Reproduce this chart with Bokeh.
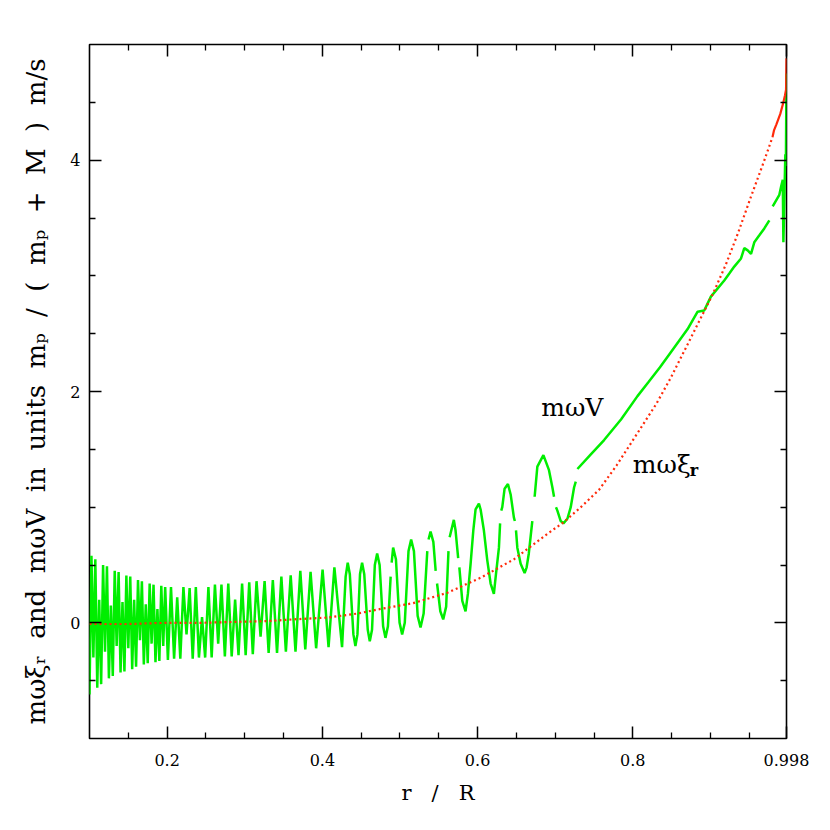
from bokeh.plotting import figure
from bokeh.models import Range1d, FixedTicker, LinearAxis, Label
from bokeh.embed import file_html
from bokeh.resources import INLINE

NAN = float("nan")
NB = "\u00a0"

# ---- data ----
X_MAJOR = [0.2, 0.4, 0.6, 0.8, 0.998]
X_MINOR = [0.15, 0.25, 0.3, 0.35, 0.45, 0.5, 0.55, 0.65, 0.7, 0.75, 0.85, 0.9, 0.95]
Y_MAJOR = [0, 2, 4]
Y_MINOR = [-0.5, 0.5, 1, 1.5, 2.5, 3, 3.5, 4.5]

# m omega V  (green); NaN marks the small breaks seen in the curve
green_r = [
    0.1000, 0.1025, 0.1050, 0.1075, 0.1100, 0.1125, 0.1150, 0.1175, 0.1200, 0.1225,
    0.1250, 0.1275, 0.1300, 0.1325, 0.1350, 0.1375, 0.1400, 0.1425, 0.1450, 0.1475,
    0.1500, 0.1525, 0.1550, 0.1575, 0.1600, 0.1625, 0.1650, 0.1675, 0.1700, 0.1725,
    0.1750, 0.1775, 0.1800, 0.1825, 0.1850, 0.1875, 0.1900, 0.1925, 0.1950, 0.1975,
    0.2010, 0.2050, 0.2090, 0.2130, 0.2170, 0.2210, 0.2250, 0.2290, 0.2330, 0.2370,
    0.2410, 0.2450, 0.2490, 0.2532, 0.2574, 0.2616, 0.2658, 0.2700, 0.2744, 0.2788,
    0.2832, 0.2876, 0.2920, 0.2966, 0.3012, 0.3058, 0.3104, 0.3152, 0.3204, 0.3256,
    0.3308, 0.3362, 0.3416, 0.3472, 0.3530, 0.3592, 0.3654, 0.3716, 0.3780, 0.3848,
    0.3920, 0.4003, 0.4080, 0.4155, 0.4254, 0.4300,
    0.4327, 0.4354, 0.4400, 0.4426, 0.4452, 0.4485, 0.4512, 0.4540, 0.4585, 0.4611,
    0.4640, 0.4676, 0.4706, 0.4738, 0.4783, 0.4813, 0.4845, 0.4880, NAN, 0.4893,
    0.4912, 0.4948, 0.4995, 0.5028, 0.5062, 0.5110, 0.5144, 0.5180, 0.5228, 0.5265,
    0.5305, 0.5352, NAN, 0.5368, 0.5394, 0.5430, 0.5460, NAN, 0.5478, 0.5520,
    0.5557, 0.5595, 0.5625, NAN, 0.5640, 0.5694, 0.5716, 0.5750, NAN, 0.5765,
    0.5803, 0.5845, 0.5875, 0.5910, 0.5945, 0.5974, 0.6017, 0.6039, 0.6081, 0.6125,
    0.6168, 0.6210, 0.6232, 0.6275, 0.6290, NAN, 0.6305, 0.6318, 0.6348, 0.6391,
    0.6426, 0.6468, 0.6480, NAN, 0.6495, 0.6512, 0.6555, 0.6606, 0.6632, 0.6660,
    0.6705, NAN, 0.6735, 0.6770, 0.6848, 0.6920, 0.6964, 0.6985, NAN, 0.7010,
    0.7028, 0.7071, 0.7106, 0.7157, 0.7200, 0.7243, 0.7265, NAN, 0.7286, 0.7450,
    0.7630, 0.7850, 0.8060, 0.8200, 0.8350, 0.8490, 0.8706, 0.8835, 0.8920, 0.9006,
    0.9178, 0.9243, 0.9307, 0.9394, 0.9436, 0.9480, 0.9523, 0.9565, 0.9630, 0.9694,
    0.9759, NAN, 0.9802, 0.9845, 0.9888, 0.9910, 0.9932, 0.9940, 0.9955, 0.9965,
    0.9972, 0.9980,
]
green_v = [
    -0.62, 0.58, -0.30, 0.55, -0.56, 0.20, -0.53, 0.50, -0.25, 0.49,
    -0.48, 0.15, -0.46, 0.45, -0.20, 0.44, -0.43, 0.18, -0.42, 0.41,
    -0.22, 0.40, -0.40, 0.20, -0.38, 0.37, -0.15, 0.36, -0.36, 0.16,
    -0.35, 0.34, -0.18, 0.33, -0.34, 0.12, -0.33, 0.32, -0.20, 0.31,
    -0.32, 0.31, -0.31, 0.22, -0.31, 0.31, -0.10, 0.30, -0.31, 0.31,
    -0.30, 0.05, -0.30, 0.31, -0.30, 0.33, -0.18, 0.33, -0.29, 0.34,
    -0.29, 0.20, -0.28, 0.34, -0.28, 0.35, -0.27, 0.36, -0.12, 0.36,
    -0.26, 0.37, -0.26, 0.40, -0.25, 0.41, -0.25, 0.45, -0.23, 0.44,
    -0.22, 0.46, -0.21, 0.48, -0.21, 0.40,
    0.52, 0.42, -0.10, -0.20, -0.10, 0.42, 0.52, 0.42, -0.06, -0.16,
    -0.06, 0.50, 0.60, 0.50, -0.03, -0.13, -0.03, 0.40, NAN, 0.52,
    0.65, 0.55, 0.00, -0.10, 0.00, 0.62, 0.72, 0.62, 0.06, -0.04,
    0.08, 0.62, NAN, 0.72, 0.79, 0.70, 0.45, NAN, 0.34, 0.10,
    0.03, 0.14, 0.62, NAN, 0.74, 0.89, 0.80, 0.56, NAN, 0.48,
    0.19, 0.10, 0.25, 0.51, 0.80, 0.98, 1.03, 0.98, 0.80, 0.54,
    0.34, 0.25, 0.39, 0.65, 0.86, NAN, 0.97, 1.00, 1.16, 1.20,
    1.11, 0.91, 0.88, NAN, 0.80, 0.65, 0.51, 0.43, 0.48, 0.60,
    0.88, NAN, 1.09, 1.35, 1.45, 1.32, 1.17, 1.09, NAN, 1.00,
    0.97, 0.88, 0.86, 0.90, 1.00, 1.17, 1.22, NAN, 1.33, 1.45,
    1.58, 1.76, 1.96, 2.08, 2.21, 2.34, 2.54, 2.69, 2.70, 2.82,
    2.96, 3.02, 3.08, 3.15, 3.24, 3.22, 3.19, 3.29, 3.35, 3.41,
    3.48, NAN, 3.60, 3.65, 3.70, 3.77, 3.83, 3.29, 3.75, 4.05,
    3.95, 4.75,
]

# m omega xi_r  (red, dotted) and its dense last stretch (solid)
red_r = [0.100, 0.150, 0.200, 0.243, 0.300, 0.329, 0.363, 0.406, 0.445, 0.475,
         0.517, 0.561, 0.604, 0.647, 0.690, 0.711, 0.733, 0.7565, 0.779, 0.806,
         0.830, 0.849, 0.870, 0.9036, 0.920, 0.935, 0.952, 0.969, 0.980]
red_v = [-0.01, -0.01, 0.00, 0.00, 0.01, 0.015, 0.03, 0.045, 0.08, 0.12,
         0.17, 0.26, 0.39, 0.55, 0.77, 0.87, 1.00, 1.15, 1.36, 1.64,
         1.89, 2.12, 2.40, 2.85, 3.10, 3.36, 3.68, 3.99, 4.20]
red_end_r = [0.980, 0.982, 0.985, 0.990, 0.994, 0.996, 0.9974, 0.998]
red_end_v = [4.20, 4.26, 4.31, 4.40, 4.50, 4.56, 4.61, 4.88]

YLABEL_WORDS = ["mωξᵣ", "and", "mωV", "in", "units", "mₚ", "/", "(", "mₚ", "+", "M", ")", "m/s"]
XLABEL_WORDS = ["r", "/", "R"]

GREEN = "#00ee00"
RED = "#ff2a0a"
SERIF = "DejaVu Serif"

p = figure(width=814, height=814, output_backend="svg", toolbar_location=None,
           x_range=Range1d(0.1, 0.998), y_range=Range1d(-1, 5))
p.min_border_left = 89
p.min_border_right = 28
p.min_border_top = 44
p.min_border_bottom = 76
p.grid.visible = False
p.background_fill_color = "white"
p.border_fill_color = "white"
p.outline_line_color = "black"
p.outline_line_width = 1.6

xt = FixedTicker(ticks=X_MAJOR, minor_ticks=X_MINOR)
yt = FixedTicker(ticks=Y_MAJOR, minor_ticks=Y_MINOR)


def style_axis(ax, labels=True):
    ax.axis_line_color = None
    ax.major_tick_in = 12
    ax.major_tick_out = 0
    ax.minor_tick_in = 6
    ax.minor_tick_out = 0
    ax.major_tick_line_color = "black"
    ax.minor_tick_line_color = "black"
    ax.major_tick_line_width = 1.5
    ax.minor_tick_line_width = 1.3
    ax.major_label_text_font = SERIF
    ax.major_label_text_font_size = "16px" if labels else "0px"
    ax.major_label_text_color = "black"


xa = p.xaxis[0]
xa.ticker = xt
style_axis(xa)
xa.major_label_standoff = 15
xa.axis_label = (NB * 3).join(XLABEL_WORDS)
xa.axis_label_text_font = SERIF
xa.axis_label_text_font_size = "21px"
xa.axis_label_text_font_style = "normal"
xa.axis_label_text_color = "black"
xa.axis_label_standoff = 12

ya = p.yaxis[0]
ya.ticker = yt
style_axis(ya)
ya.major_label_standoff = 9
ya.axis_label = (NB * 2).join(YLABEL_WORDS)
ya.axis_label_text_font = SERIF
ya.axis_label_text_font_size = "26px"
ya.axis_label_text_font_style = "normal"
ya.axis_label_text_color = "black"
ya.axis_label_standoff = 16

top = LinearAxis(ticker=xt, major_label_overrides={t: "" for t in X_MAJOR})
style_axis(top, labels=False)
p.add_layout(top, "above")
right = LinearAxis(ticker=yt, major_label_overrides={t: "" for t in Y_MAJOR})
style_axis(right, labels=False)
p.add_layout(right, "right")

p.line(green_r, green_v, line_color=GREEN, line_width=2.5)
p.line(red_r, red_v, line_color=RED, line_width=2.2, line_dash="2 3")
p.line(red_end_r, red_end_v, line_color=RED, line_width=2.2)

p.add_layout(Label(x=0.682, y=1.784, y_offset=9, text="mωV", text_font=SERIF,
                   text_font_size="25px", text_baseline="alphabetic", text_align="left",
                   text_color="black"))
p.add_layout(Label(x=0.8, y=1.287, y_offset=9, text="mωξ", text_font=SERIF,
                   text_font_size="25px", text_baseline="alphabetic", text_align="left",
                   text_color="black"))
p.add_layout(Label(x=0.8, y=1.287, x_offset=57, y_offset=3, text="r", text_font=SERIF,
                   text_font_size="16px", text_font_style="bold",
                   text_baseline="alphabetic", text_align="left", text_color="black"))

open("out.html", "w").write(file_html(p, INLINE))
